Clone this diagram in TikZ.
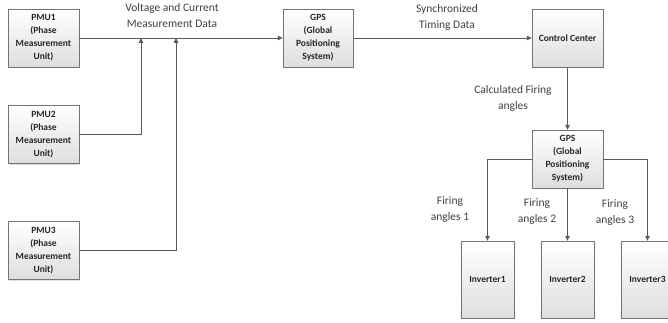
\documentclass[tikz,border=0pt]{standalone}
\usepackage{fontspec}
\setmainfont{Carlito}
\usetikzlibrary{arrows.meta,shadows}
\begin{document}
\begin{tikzpicture}[x=1pt,y=-1pt,
 box/.style={draw=black!55, top color=white, bottom color=black!13,
   drop shadow={opacity=0.25, shadow xshift=1pt, shadow yshift=-1pt},
   inner sep=0pt, font=\bfseries\fontsize{9.5}{13}\selectfont, align=center, text=black!85},
 pmubox/.style={box, minimum width=71pt, minimum height=58pt},
 invbox/.style={box, minimum width=53pt, minimum height=77pt},
 conn/.style={draw=black!65, line width=0.8pt},
 arr/.style={conn, -{Triangle[length=5pt,width=4.5pt]}},
 lbl/.style={font=\fontsize{11.5}{16}\selectfont, align=center, text=black!75}]
\useasboundingbox (0,0) rectangle (668,323);

\node[pmubox] (pmu1) at (43.5,38) {PMU1\\(Phase\\Measurement\\Unit)};
\node[pmubox] (pmu2) at (43.5,134.5) {PMU2\\(Phase\\Measurement\\Unit)};
\node[pmubox] (pmu3) at (43.5,250.5) {PMU3\\(Phase\\Measurement\\Unit)};
\node[pmubox, minimum width=70pt] (gps1) at (318,38) {GPS\\(Global\\Positioning\\System)};
\node[pmubox] (cc) at (567.5,38) {Control Center};
\node[pmubox] (gps2) at (567.5,159) {GPS\\(Global\\Positioning\\System)};
\node[invbox] (inv1) at (487.5,279.5) {Inverter1};
\node[invbox] (inv2) at (567.5,279.5) {Inverter2};
\node[invbox] (inv3) at (647.5,279.5) {Inverter3};

\coordinate (j1) at (141,38);
\coordinate (j2) at (176,38);

\draw[arr] (pmu1.east) -- (gps1.west);
\draw[arr] (pmu2.east) -| (j1);
\draw[arr] (pmu3.east) -| (j2);
\draw[arr] (gps1.east) -- (cc.west);
\draw[arr] (cc.south) -- (gps2.north);
\draw[arr] (gps2.west) -| (inv1.north);
\draw[arr] (gps2.south) -- (inv2.north);
\draw[arr] (gps2.east) -| (inv3.north);

\node[lbl] (l1) at (172,16) {Voltage and Current\\Measurement Data};
\node[lbl] (l2) at (447,17) {Synchronized\\Timing Data};
\node[lbl] (l3) at (513,98) {Calculated Firing\\angles};
\node[lbl] (l4) at (450,210) {Firing\\angles 1};
\node[lbl] (l5) at (537,212) {Firing\\angles 2};
\node[lbl] (l6) at (615,213) {Firing\\angles 3};
\end{tikzpicture}
\end{document}
